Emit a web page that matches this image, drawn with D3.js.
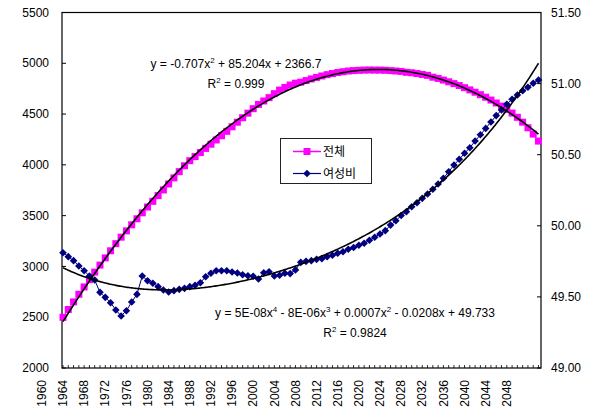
<!DOCTYPE html>
<html><head><meta charset="utf-8">
<script src="https://cdn.jsdelivr.net/npm/d3@7/dist/d3.min.js"></script>
<style>
body{margin:0;background:#fff;}
svg text{font-family:"Liberation Sans",Arial,sans-serif;}
</style></head>
<body><svg id="c" width="595" height="411"></svg>
<script>
// ---- data ----
const years = d3.range(1960, 2051);
const totalPop = [2499,2576,2651,2726,2798,2870,2944,3013,3084,3154,
 3224,3288,3350,3410,3469,3528,3585,3641,3697,3753,
 3812,3872,3933,3991,4041,4081,4121,4162,4203,4245,
 4287,4330,4375,4420,4464,4509,4553,4595,4629,4662,
 4701,4736,4762,4786,4804,4814,4830,4846,4861,4875,
 4888,4899,4909,4917,4924,4928,4931,4933,4934,4933,
 4933,4931,4928,4924,4920,4911,4907,4899,4890,4881,
 4863,4851,4835,4818,4800,4781,4760,4738,4715,4691,
 4666,4638,4609,4578,4546,4510,4468,4420,4365,4303,4234];
const femaleRatio = [49.811,49.783,49.755,49.717,49.684,49.647,49.619,49.532,49.497,49.459,
 49.408,49.366,49.403,49.464,49.518,49.647,49.614,49.596,49.572,49.549,
 49.534,49.544,49.553,49.560,49.572,49.582,49.600,49.642,49.666,49.684,
 49.684,49.684,49.675,49.668,49.656,49.649,49.645,49.626,49.670,49.677,
 49.647,49.652,49.666,49.664,49.690,49.743,49.750,49.755,49.764,49.769,
 49.783,49.793,49.807,49.817,49.835,49.847,49.863,49.877,49.898,49.920,
 49.942,49.966,50.005,50.035,50.072,50.099,50.134,50.162,50.193,50.224,
 50.257,50.294,50.334,50.380,50.428,50.468,50.510,50.549,50.596,50.640,
 50.685,50.730,50.775,50.815,50.855,50.890,50.920,50.950,50.974,51.002,51.025];
const xTickLabels = ["1960","1964","1968","1972","1976","1980","1984","1988","1992","1996","2000","2004","2008","2012","2016","2020","2024","2028","2032","2036","2040","2044","2048"];
const leftTicks = [2000,2500,3000,3500,4000,4500,5000,5500];
const rightTicks = [49.00,49.50,50.00,50.50,51.00,51.50];
const seriesNames = ["전체","여성비"];

// ---- layout ----
const L=62, R=541, T=12.5, B=368;
const svg = d3.select("#c");
const x = d3.scaleLinear().domain([0, years.length-1]).range([63, 538.5]);
const yL = d3.scaleLinear().domain([2000,5500]).range([B,T]);
const yR = d3.scaleLinear().domain([49,51.5]).range([B,T]);

// polynomial least squares fit (x = 1..n as Excel)
function polyfit(ys, deg){
  const n = ys.length, s = n;
  const M = [], v = [];
  for(let r=0;r<=deg;r++){ M.push(new Array(deg+1).fill(0)); v.push(0); }
  ys.forEach((y,i)=>{
    const t=(i+1)/s;
    for(let r=0;r<=deg;r++){
      v[r]+=y*Math.pow(t,r);
      for(let c=0;c<=deg;c++) M[r][c]+=Math.pow(t,r+c);
    }
  });
  const N=deg+1;
  for(let k=0;k<N;k++){
    let p=k; for(let r=k+1;r<N;r++) if(Math.abs(M[r][k])>Math.abs(M[p][k])) p=r;
    [M[k],M[p]]=[M[p],M[k]]; [v[k],v[p]]=[v[p],v[k]];
    for(let r=k+1;r<N;r++){ const f=M[r][k]/M[k][k]; for(let c=k;c<N;c++) M[r][c]-=f*M[k][c]; v[r]-=f*v[k]; }
  }
  const a=new Array(N).fill(0);
  for(let k=N-1;k>=0;k--){ let sum=v[k]; for(let c=k+1;c<N;c++) sum-=M[k][c]*a[c]; a[k]=sum/M[k][k]; }
  return xi => { const t=xi/s; let r=0; for(let k=N-1;k>=0;k--) r=r*t+a[k]; return r; };
}

// plot border
svg.append("rect").attr("x",L).attr("y",T).attr("width",R-L).attr("height",B-T)
  .attr("fill","#fff").attr("stroke","#000").attr("stroke-width",1.2);

const gA = svg.append("g");
leftTicks.forEach(t=>{
  gA.append("line").attr("x1",L).attr("x2",L+4).attr("y1",yL(t)).attr("y2",yL(t)).attr("stroke","#000");
  gA.append("text").attr("x",49).attr("y",yL(t)).attr("dy","0.35em").attr("text-anchor","end")
    .attr("font-size",12).text(t);
});
rightTicks.forEach(t=>{
  gA.append("line").attr("x1",R-4).attr("x2",R).attr("y1",yR(t)).attr("y2",yR(t)).attr("stroke","#000");
  gA.append("text").attr("x",551).attr("y",yR(t)).attr("dy","0.35em").attr("text-anchor","start")
    .attr("font-size",12).text(t.toFixed(2));
});
years.forEach((yy,i)=>{
  gA.append("line").attr("x1",x(i)).attr("x2",x(i)).attr("y1",B).attr("y2",B-3).attr("stroke","#000").attr("stroke-width",0.8);
});
xTickLabels.forEach((lab,k)=>{
  const pos = x(k*4-4);
  gA.append("text").attr("transform","rotate(-90)")
    .attr("x",-380).attr("y",pos).attr("dy","0.35em")
    .attr("text-anchor","end").attr("font-size",12).text(lab);
});

// series 1: total (magenta squares)
const line1 = d3.line().x((d,i)=>x(i)).y(d=>yL(d));
svg.append("path").attr("d",line1(totalPop)).attr("fill","none").attr("stroke","#FF00FF").attr("stroke-width",1);
svg.append("g").selectAll("rect").data(totalPop).join("rect")
  .attr("x",(d,i)=>x(i)-3.5).attr("y",d=>yL(d)-3.5).attr("width",7).attr("height",7).attr("fill","#FF00FF");

// series 2: female ratio (navy diamonds)
const line2 = d3.line().x((d,i)=>x(i)).y(d=>yR(d));
svg.append("path").attr("d",line2(femaleRatio)).attr("fill","none").attr("stroke","#000080").attr("stroke-width",1);
svg.append("g").selectAll("path.dm").data(femaleRatio).join("path").attr("class","dm")
  .attr("d",(d,i)=>{const cx=x(i),cy=yR(d),r=3.8;return `M${cx},${cy-r}L${cx+r},${cy}L${cx},${cy+r}L${cx-r},${cy}Z`;})
  .attr("fill","#000080");

// trendlines
const f1 = polyfit(totalPop,2), f2 = polyfit(femaleRatio,4);
const fine = d3.range(0, years.length-1+0.001, 0.25);
svg.append("path").attr("d",d3.line().x(i=>x(i)).y(i=>yL(f1(i+1)))(fine))
  .attr("fill","none").attr("stroke","#000").attr("stroke-width",1.6);
svg.append("path").attr("d",d3.line().x(i=>x(i)).y(i=>yR(f2(i+1)))(fine))
  .attr("fill","none").attr("stroke","#000").attr("stroke-width",1.6);

// equation labels
function eq(g, xc, y, parts){
  const t = g.append("text").attr("x",xc).attr("y",y).attr("text-anchor","middle").attr("font-size",12);
  let shift = 0;
  parts.forEach(p=>{
    if(typeof p === "string"){ t.append("tspan").attr("dy",shift).text(p); shift = 0; }
    else { t.append("tspan").attr("dy",-5).attr("font-size",8).text(p.s); shift = 5; }
  });
}
const ge = svg.append("g");
eq(ge,236,68,["y = -0.707x",{s:"2"}," + 85.204x + 2366.7"]);
eq(ge,236,88,["R",{s:"2"}," = 0.999"]);
eq(ge,355,317,["y = 5E-08x",{s:"4"}," - 8E-06x",{s:"3"}," + 0.0007x",{s:"2"}," - 0.0208x + 49.733"]);
eq(ge,355,337,["R",{s:"2"}," = 0.9824"]);

// legend
const lg = svg.append("g");
lg.append("rect").attr("x",280.5).attr("y",138.5).attr("width",91).attr("height",45)
  .attr("fill","#fff").attr("stroke","#222").attr("stroke-width",1);
lg.append("line").attr("x1",293).attr("x2",321).attr("y1",151.5).attr("y2",151.5).attr("stroke","#FF00FF").attr("stroke-width",1.5);
lg.append("rect").attr("x",303.5).attr("y",148).attr("width",7).attr("height",7).attr("fill","#FF00FF");
lg.append("line").attr("x1",293).attr("x2",321).attr("y1",173.5).attr("y2",173.5).attr("stroke","#000080").attr("stroke-width",1.2);
lg.append("path").attr("d","M307,169.7L310.8,173.5L307,177.3L303.2,173.5Z").attr("fill","#000080");
lg.append("text").attr("x",323).attr("y",151.5).attr("dy","0.35em").attr("font-size",12)
  .style("font-family","'Noto Sans CJK KR',sans-serif").text(seriesNames[0]);
lg.append("text").attr("x",323).attr("y",173.5).attr("dy","0.35em").attr("font-size",12)
  .style("font-family","'Noto Sans CJK KR',sans-serif").text(seriesNames[1]);
</script></body></html>
